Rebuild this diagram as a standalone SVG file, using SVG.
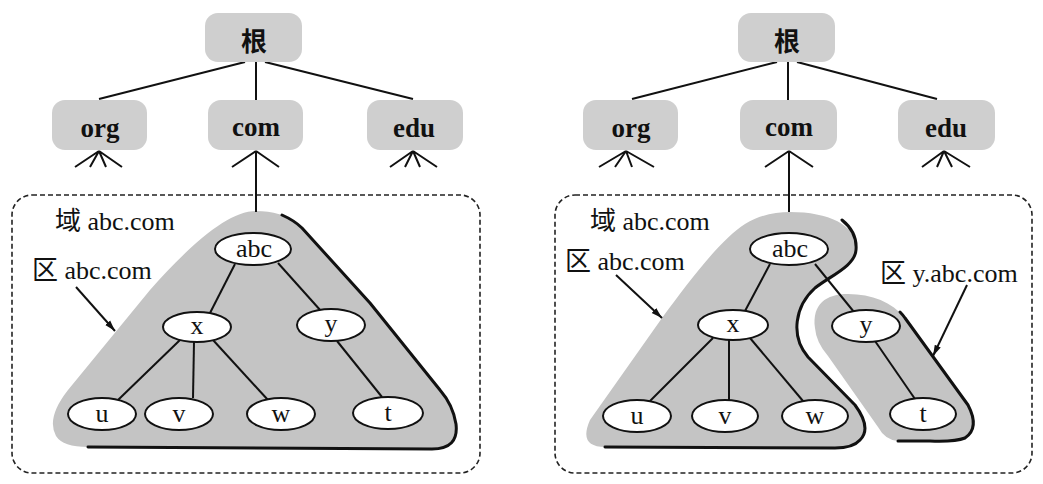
<svg xmlns="http://www.w3.org/2000/svg" width="1043" height="484" viewBox="0 0 1043 484">
<style>
.box{fill:#cfcfcf;stroke:none}
.bt{font-family:"Liberation Serif","Noto Sans CJK SC",serif;font-size:27px;font-weight:bold;fill:#111;text-anchor:middle}
.cjk{font-family:"Noto Sans CJK SC","Liberation Serif",sans-serif;font-size:26px;font-weight:bold;fill:#111;text-anchor:middle}
.et{font-family:"Liberation Serif",serif;font-size:26px;fill:#111;text-anchor:middle}
.lb{font-family:"Liberation Serif","Noto Sans CJK SC",serif;font-size:26px;fill:#111}
.el{fill:#fff;stroke:#111;stroke-width:2}
.ln{stroke:#111;stroke-width:2;fill:none}
.ar{stroke:#111;stroke-width:2;fill:none;marker-end:url(#ah)}
.dash{fill:none;stroke:#222;stroke-width:1.6;stroke-dasharray:5 3}
.zone{fill:#c4c4c4;stroke:none}
.sh{fill:none;stroke:#111;stroke-width:3;stroke-linejoin:round;stroke-linecap:round}
</style>
<defs>
<marker id="ah" viewBox="0 0 10 10" refX="10" refY="5" markerWidth="11" markerHeight="11" markerUnits="userSpaceOnUse" orient="auto">
<path d="M0,2 L10,5 L0,8 z" fill="#111"/>
</marker>
</defs>
<rect width="1043" height="484" fill="#fff"/>

<!-- domain boxes -->
<rect id="domainL" class="dash" x="12" y="195" width="468" height="278" rx="20"/>
<rect id="domainR" class="dash" x="555" y="195" width="477" height="278" rx="20"/>

<!-- zones -->
<g id="zoneL">
<path class="zone" d="M256,211 C228,211 190,245 150,290 L68,390 Q46,418 56,436 Q63,447 88,447 L432,449 Q459,449 456,424 Q453,405 440,390 L370,303 L302,228 C287,214 272,211 256,211 Z"/>
<path class="sh" d="M282,215 C291,219 297,223 302,228 L370,303 L440,390 Q453,405 456,424 Q459,449 432,449 L88,447"/>
</g>
<g id="zoneR1">
<path class="zone" d="M790,212 C830,212 858,226 856,250 C855,266 830,276 815,288 C795,306 790,336 808,357 L855,405 Q872,428 860,440 Q853,448 835,448 L605,447 Q578,447 590,420 L662,318 C690,280 720,240 745,224 C760,215 775,212 790,212 Z"/>
<path class="sh" d="M842,220 C852,228 857,238 856,250 C855,266 830,276 815,288 C795,306 790,336 808,357 L855,405 Q872,428 860,440 Q853,448 835,448 L605,447"/>
</g>
<g id="zoneR2">
<path class="zone" d="M815,328 C812,304 826,294 848,294 C872,294 892,302 905,318 L968,405 Q980,428 965,438 Q955,442 930,441 L898,441 Q885,440 878,427 L828,356 Q816,342 815,328 Z"/>
<path class="sh" d="M900,312 Q903,315 905,318 L968,405 Q980,428 965,438 Q955,442 930,441 L898,441"/>
</g>

<!-- connectors -->
<g id="connectors">
<line class="ln" x1="245" y1="62" x2="99" y2="99"/>
<line class="ln" x1="256" y1="62" x2="256" y2="100"/>
<line class="ln" x1="265" y1="62" x2="413" y2="99"/>
<path class="ln" d="M99,151 L75,167 M99,151 L90,167 M99,151 L106,167 M99,151 L122,167"/>
<path class="ln" d="M256,151 L232,167 M256,151 L279,167 M256,151 L256,212"/>
<path class="ln" d="M413,151 L390,167 M413,151 L405,167 M413,151 L420,167 M413,151 L437,167"/>
<line class="ln" x1="235" y1="264" x2="210" y2="313"/>
<line class="ln" x1="278" y1="263" x2="321" y2="311"/>
<line class="ln" x1="180" y1="340" x2="118" y2="400"/>
<line class="ln" x1="194" y1="342" x2="193" y2="398"/>
<line class="ln" x1="213" y1="340" x2="268" y2="400"/>
<line class="ln" x1="337" y1="341" x2="382" y2="397"/>
<line class="ar" x1="76" y1="287" x2="115" y2="331"/>

<line class="ln" x1="777" y1="62" x2="632" y2="99"/>
<line class="ln" x1="788" y1="62" x2="788" y2="100"/>
<line class="ln" x1="797" y1="62" x2="937" y2="99"/>
<path class="ln" d="M626,151 L599,167 M626,151 L615,167 M626,151 L632,167 M626,151 L654,167"/>
<path class="ln" d="M789,151 L765,167 M789,151 L813,167 M789,151 L789,212"/>
<path class="ln" d="M944,151 L922,167 M944,151 L937,167 M944,151 L952,167 M944,151 L970,167"/>
<line class="ln" x1="770" y1="264" x2="745" y2="311"/>
<line class="ln" x1="815" y1="264" x2="854" y2="312"/>
<line class="ln" x1="713" y1="338" x2="650" y2="401"/>
<line class="ln" x1="729" y1="340" x2="729" y2="400"/>
<line class="ln" x1="750" y1="338" x2="803" y2="401"/>
<line class="ln" x1="875" y1="341" x2="915" y2="399"/>
<line class="ar" x1="616" y1="275" x2="662" y2="318"/>
<line class="ar" x1="967" y1="285" x2="933" y2="356"/>
</g>

<!-- left tree nodes -->
<g id="rootL"><rect class="box" x="205" y="13" width="97" height="49" rx="13"/><text class="cjk" x="254" y="51">根</text></g>
<g id="orgL"><rect class="box" x="52" y="100" width="95" height="50" rx="13"/><text class="bt" x="100" y="137">org</text></g>
<g id="comL"><rect class="box" x="208" y="100" width="95" height="50" rx="13"/><text class="bt" x="256" y="136">com</text></g>
<g id="eduL"><rect class="box" x="367" y="100" width="96" height="50" rx="13"/><text class="bt" x="414" y="137">edu</text></g>
<g id="abcL"><ellipse class="el" cx="253" cy="249" rx="38" ry="16"/><text class="et" x="254" y="257">abc</text></g>
<g id="xL"><ellipse class="el" cx="197" cy="327" rx="34" ry="15"/><text class="et" x="197" y="334">x</text></g>
<g id="yL"><ellipse class="el" cx="331" cy="325" rx="34" ry="16"/><text class="et" x="331" y="332">y</text></g>
<g id="uL"><ellipse class="el" cx="102" cy="414" rx="34" ry="16"/><text class="et" x="102" y="422">u</text></g>
<g id="vL"><ellipse class="el" cx="179" cy="414" rx="34" ry="16"/><text class="et" x="179" y="422">v</text></g>
<g id="wL"><ellipse class="el" cx="281" cy="414" rx="34" ry="16"/><text class="et" x="281" y="422">w</text></g>
<g id="tL"><ellipse class="el" cx="388" cy="413" rx="35" ry="16"/><text class="et" x="388" y="421">t</text></g>
<g id="labelsL">
<text class="lb" x="55" y="230">域 abc.com</text>
<text class="lb" x="32" y="279">区 abc.com</text>
</g>

<!-- right tree nodes -->
<g id="rootR"><rect class="box" x="738" y="13" width="97" height="49" rx="13"/><text class="cjk" x="787" y="51">根</text></g>
<g id="orgR"><rect class="box" x="583" y="100" width="95" height="50" rx="13"/><text class="bt" x="631" y="137">org</text></g>
<g id="comR"><rect class="box" x="740" y="100" width="97" height="50" rx="13"/><text class="bt" x="789" y="136">com</text></g>
<g id="eduR"><rect class="box" x="898" y="100" width="97" height="50" rx="13"/><text class="bt" x="946" y="137">edu</text></g>
<g id="abcR"><ellipse class="el" cx="789" cy="249" rx="39" ry="16"/><text class="et" x="790" y="257">abc</text></g>
<g id="xR"><ellipse class="el" cx="733" cy="325" rx="35" ry="15"/><text class="et" x="733" y="332">x</text></g>
<g id="yR"><ellipse class="el" cx="866" cy="326" rx="34" ry="16"/><text class="et" x="866" y="333">y</text></g>
<g id="uR"><ellipse class="el" cx="637" cy="416" rx="34" ry="16"/><text class="et" x="637" y="424">u</text></g>
<g id="vR"><ellipse class="el" cx="725" cy="416" rx="33" ry="16"/><text class="et" x="725" y="424">v</text></g>
<g id="wR"><ellipse class="el" cx="815" cy="416" rx="33" ry="16"/><text class="et" x="815" y="424">w</text></g>
<g id="tR"><ellipse class="el" cx="923" cy="414" rx="33" ry="16"/><text class="et" x="923" y="422">t</text></g>
<g id="labelsR">
<text class="lb" x="590" y="230">域 abc.com</text>
<text class="lb" x="565" y="270">区 abc.com</text>
<text class="lb" x="880" y="282">区 y.abc.com</text>
</g>
</svg>
